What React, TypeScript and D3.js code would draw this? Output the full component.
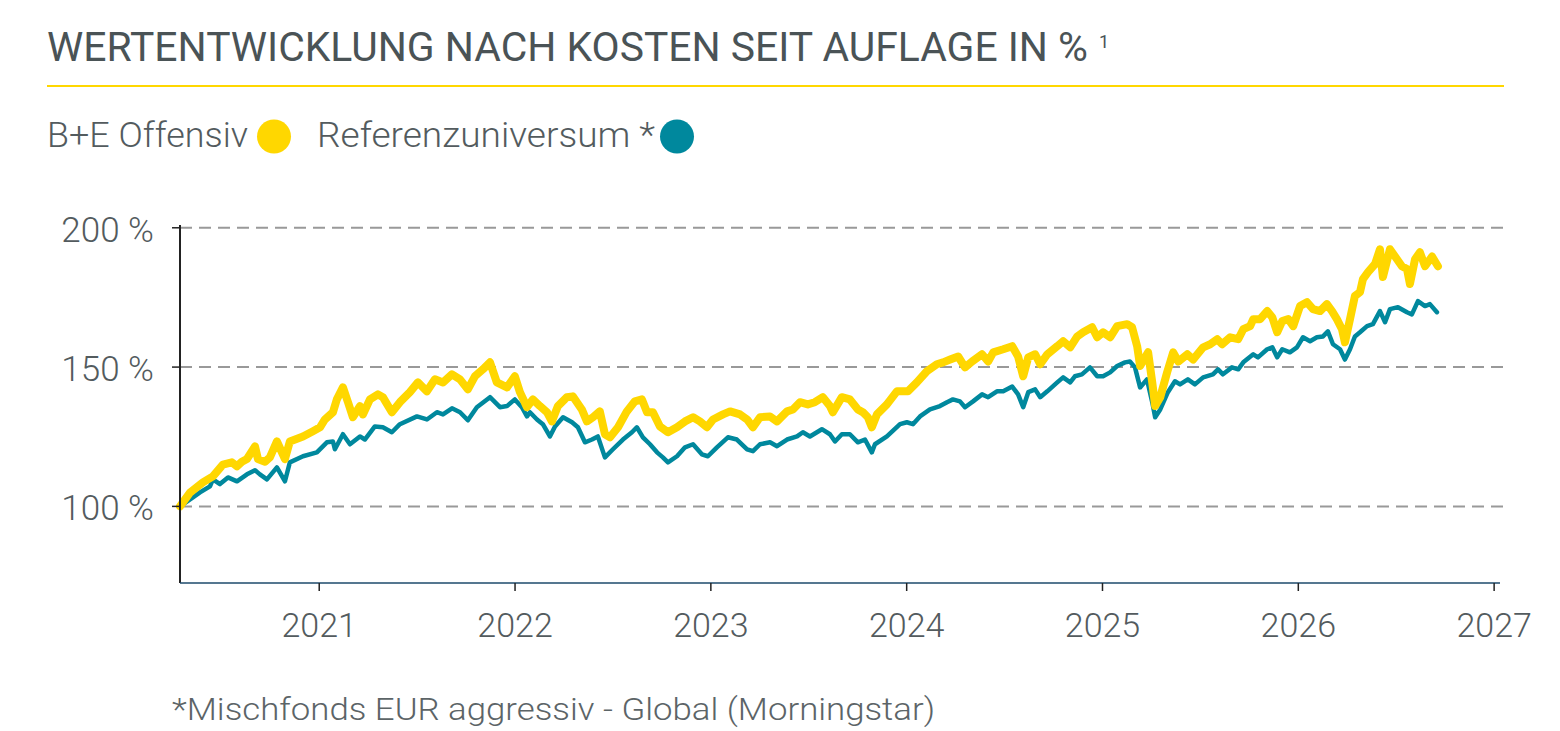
import * as d3 from "d3";

type Point = [number, number];

// decimal year, % of start value
const offensiv: Point[] = [
  [2020.289, 100.0], [2020.34, 104.9], [2020.406, 108.6], [2020.457, 110.8], [2020.508, 115.0],
  [2020.554, 115.8], [2020.58, 114.4], [2020.605, 116.0], [2020.631, 117.0], [2020.672, 121.5],
  [2020.687, 117.0], [2020.723, 116.0], [2020.748, 117.6], [2020.784, 123.3], [2020.825, 117.0],
  [2020.85, 123.3], [2020.917, 125.1], [2020.968, 127.0], [2021.004, 128.4], [2021.029, 131.2],
  [2021.07, 133.8], [2021.09, 138.4], [2021.121, 142.7], [2021.147, 137.4], [2021.172, 132.0],
  [2021.208, 136.0], [2021.223, 133.0], [2021.259, 138.4], [2021.3, 140.2], [2021.325, 139.2],
  [2021.371, 133.8], [2021.412, 137.4], [2021.463, 141.0], [2021.504, 144.5], [2021.55, 141.3],
  [2021.591, 145.6], [2021.632, 144.5], [2021.678, 147.4], [2021.719, 145.6], [2021.759, 142.0],
  [2021.795, 146.7], [2021.836, 149.2], [2021.872, 151.7], [2021.907, 144.5], [2021.959, 142.7],
  [2021.999, 146.7], [2022.025, 141.0], [2022.061, 135.6], [2022.091, 138.4], [2022.127, 136.0],
  [2022.163, 133.8], [2022.188, 130.5], [2022.219, 136.0], [2022.265, 139.2], [2022.295, 139.5],
  [2022.341, 134.8], [2022.367, 130.5], [2022.398, 132.0], [2022.433, 134.1], [2022.459, 125.9],
  [2022.485, 124.8], [2022.526, 128.4], [2022.571, 134.1], [2022.612, 137.7], [2022.648, 138.4],
  [2022.674, 133.8], [2022.704, 133.8], [2022.74, 128.7], [2022.781, 126.6], [2022.827, 128.4],
  [2022.868, 130.5], [2022.909, 132.0], [2022.944, 130.5], [2022.98, 128.4], [2023.011, 131.2],
  [2023.062, 133.0], [2023.098, 134.1], [2023.149, 133.0], [2023.185, 131.2], [2023.215, 128.4],
  [2023.251, 132.0], [2023.302, 132.3], [2023.338, 130.5], [2023.389, 134.1], [2023.419, 134.8],
  [2023.455, 137.4], [2023.495, 136.6], [2023.531, 137.4], [2023.572, 139.2], [2023.608, 136.0],
  [2023.623, 133.8], [2023.669, 139.2], [2023.71, 138.4], [2023.751, 134.8], [2023.776, 133.8],
  [2023.802, 132.0], [2023.822, 128.4], [2023.848, 133.0], [2023.899, 136.6], [2023.95, 141.3],
  [2024.006, 141.3], [2024.052, 144.5], [2024.103, 148.5], [2024.154, 151.0], [2024.186, 151.7],
  [2024.222, 152.7], [2024.263, 153.8], [2024.298, 149.9], [2024.334, 152.0], [2024.385, 154.6],
  [2024.416, 152.0], [2024.442, 155.3], [2024.493, 156.4], [2024.539, 157.5], [2024.569, 153.8],
  [2024.595, 146.7], [2024.621, 153.5], [2024.656, 154.6], [2024.682, 151.0], [2024.718, 154.6],
  [2024.769, 157.5], [2024.799, 159.3], [2024.835, 157.1], [2024.871, 161.0], [2024.901, 162.5],
  [2024.947, 164.3], [2024.973, 160.7], [2025.003, 162.5], [2025.039, 160.7], [2025.075, 164.7],
  [2025.126, 165.4], [2025.151, 164.3], [2025.177, 157.5], [2025.192, 150.4], [2025.218, 153.5],
  [2025.233, 155.3], [2025.254, 144.5], [2025.269, 136.0], [2025.295, 139.2], [2025.33, 148.1],
  [2025.361, 155.3], [2025.387, 152.0], [2025.433, 154.6], [2025.463, 152.7], [2025.514, 157.1],
  [2025.55, 158.2], [2025.586, 160.0], [2025.611, 158.2], [2025.652, 160.7], [2025.693, 160.0],
  [2025.719, 163.6], [2025.754, 164.7], [2025.77, 167.2], [2025.805, 167.2], [2025.841, 170.1],
  [2025.867, 167.9], [2025.892, 162.5], [2025.918, 166.5], [2025.949, 167.2], [2025.974, 164.7],
  [2026.009, 171.9], [2026.044, 173.3], [2026.075, 170.8], [2026.111, 170.1], [2026.146, 172.6],
  [2026.172, 170.1], [2026.197, 167.2], [2026.223, 163.6], [2026.238, 158.9], [2026.264, 167.2],
  [2026.289, 175.5], [2026.315, 176.9], [2026.33, 181.6], [2026.356, 184.1], [2026.392, 187.0],
  [2026.417, 192.3], [2026.432, 182.3], [2026.468, 192.3], [2026.504, 188.7], [2026.529, 186.2],
  [2026.555, 185.2], [2026.57, 179.8], [2026.596, 188.7], [2026.621, 191.2], [2026.647, 186.2],
  [2026.683, 189.7], [2026.713, 186.2],
];

const referenz: Point[] = [
  [2020.289, 100.0], [2020.355, 103.2], [2020.391, 105.0], [2020.442, 107.2], [2020.457, 109.7],
  [2020.493, 108.0], [2020.534, 110.4], [2020.58, 109.0], [2020.631, 111.5], [2020.672, 113.0],
  [2020.697, 111.5], [2020.733, 109.7], [2020.784, 114.0], [2020.825, 109.0], [2020.85, 115.8],
  [2020.917, 118.0], [2020.988, 119.4], [2021.039, 123.0], [2021.07, 123.3], [2021.08, 120.5],
  [2021.121, 125.9], [2021.157, 122.3], [2021.208, 125.1], [2021.233, 124.0], [2021.284, 128.7],
  [2021.325, 128.4], [2021.371, 126.6], [2021.412, 129.5], [2021.499, 132.3], [2021.55, 131.2],
  [2021.601, 133.8], [2021.632, 133.0], [2021.678, 135.2], [2021.719, 133.8], [2021.759, 130.9],
  [2021.805, 135.6], [2021.872, 139.2], [2021.923, 135.6], [2021.959, 136.0], [2021.999, 138.4],
  [2022.035, 135.6], [2022.061, 132.3], [2022.076, 133.8], [2022.112, 131.2], [2022.142, 129.5],
  [2022.178, 125.1], [2022.204, 128.7], [2022.245, 132.0], [2022.291, 130.2], [2022.321, 128.4],
  [2022.357, 123.0], [2022.393, 124.0], [2022.423, 125.1], [2022.459, 117.6], [2022.5, 120.5],
  [2022.551, 124.0], [2022.597, 126.6], [2022.622, 128.4], [2022.653, 124.8], [2022.689, 122.3],
  [2022.725, 119.4], [2022.755, 117.6], [2022.781, 115.8], [2022.827, 118.0], [2022.868, 121.2],
  [2022.909, 122.3], [2022.954, 118.7], [2022.985, 118.0], [2023.031, 121.2], [2023.087, 124.8],
  [2023.133, 124.0], [2023.185, 120.5], [2023.215, 119.8], [2023.251, 122.3], [2023.302, 123.0],
  [2023.338, 121.6], [2023.389, 124.0], [2023.44, 125.1], [2023.47, 126.6], [2023.506, 125.1],
  [2023.567, 127.7], [2023.608, 125.9], [2023.634, 123.3], [2023.669, 125.9], [2023.71, 125.9],
  [2023.751, 123.0], [2023.787, 124.0], [2023.822, 119.4], [2023.838, 122.3], [2023.899, 125.1],
  [2023.966, 129.5], [2024.001, 130.2], [2024.032, 129.5], [2024.068, 132.3], [2024.119, 134.8],
  [2024.17, 136.0], [2024.206, 137.4], [2024.236, 138.4], [2024.272, 137.7], [2024.298, 135.6],
  [2024.339, 137.7], [2024.385, 140.2], [2024.416, 139.2], [2024.461, 141.3], [2024.493, 141.3],
  [2024.539, 143.0], [2024.569, 140.2], [2024.595, 135.6], [2024.621, 141.0], [2024.656, 142.0],
  [2024.682, 139.2], [2024.718, 141.3], [2024.769, 144.5], [2024.799, 146.3], [2024.835, 144.5],
  [2024.859, 146.7], [2024.895, 147.4], [2024.936, 149.9], [2024.973, 146.7], [2025.003, 146.7],
  [2025.039, 148.1], [2025.075, 150.4], [2025.115, 151.7], [2025.14, 152.0], [2025.166, 149.9],
  [2025.192, 142.7], [2025.227, 145.6], [2025.254, 137.4], [2025.269, 132.0], [2025.295, 134.8],
  [2025.334, 141.0], [2025.37, 144.9], [2025.396, 143.8], [2025.436, 145.6], [2025.472, 143.8],
  [2025.514, 146.3], [2025.564, 147.4], [2025.59, 149.2], [2025.615, 147.4], [2025.661, 149.9],
  [2025.693, 149.2], [2025.719, 151.7], [2025.77, 154.6], [2025.794, 153.5], [2025.841, 156.4],
  [2025.867, 157.1], [2025.892, 153.5], [2025.918, 156.4], [2025.957, 155.3], [2025.993, 157.1],
  [2026.024, 160.7], [2026.06, 159.3], [2026.095, 160.7], [2026.126, 161.0], [2026.151, 162.8],
  [2026.177, 158.2], [2026.213, 156.4], [2026.238, 152.7], [2026.264, 156.4], [2026.289, 161.0],
  [2026.315, 162.5], [2026.351, 164.7], [2026.381, 165.4], [2026.417, 170.1], [2026.443, 166.1],
  [2026.468, 170.8], [2026.509, 171.5], [2026.555, 169.7], [2026.58, 168.9], [2026.611, 173.7],
  [2026.647, 171.9], [2026.672, 172.6], [2026.708, 169.7],
];

const yearTicks = [2021, 2022, 2023, 2024, 2025, 2026, 2027];
const percentTicks = [100, 150, 200];

const title = "WERTENTWICKLUNG NACH KOSTEN SEIT AUFLAGE IN %";
const legendItems = [
  { label: "B+E Offensiv", color: "#ffd700" },
  { label: "Referenzuniversum *", color: "#00889d" },
];
const footnote = "*Mischfonds EUR aggressiv - Global (Morningstar)";

const textColor = "#535b5e";
const font = "Roboto, 'DejaVu Sans', sans-serif";

export default function App() {
  const width = 1560;
  const height = 731;

  const x = d3.scaleLinear().domain([2020.289, 2027.03]).range([180, 1500]);
  const y = d3.scaleLinear().domain([72.5, 201]).range([583, 225]);

  const line = d3
    .line<Point>()
    .x((d) => x(d[0]))
    .y((d) => y(d[1]));

  return (
    <svg
      width={width}
      height={height}
      style={{ position: "absolute", left: 0, top: 0, background: "#fff" }}
      fontFamily={font}
    >
      {/* title */}
      <text
        x={47}
        y={61}
        fontSize={41}
        fontWeight={400}
        fill="#4a5356"
        textLength={1041}
        lengthAdjust="spacingAndGlyphs"
      >
        {title}
      </text>
      <text x={1099} y={48} fontSize={18} fontWeight={400} fill="#4a5356">
        1
      </text>
      <line x1={47} x2={1504} y1={86} y2={86} stroke="#ffd700" strokeWidth={2} />

      {/* legend */}
      <g fontSize={35} fontWeight={300} fill={textColor}>
        <text x={47} y={147} textLength={201} lengthAdjust="spacingAndGlyphs">
          {legendItems[0].label}
        </text>
        <circle cx={274} cy={136.5} r={17} fill={legendItems[0].color} />
        <text x={317} y={147} textLength={338} lengthAdjust="spacingAndGlyphs">
          {legendItems[1].label}
        </text>
        <circle cx={677} cy={136.5} r={17} fill={legendItems[1].color} />
      </g>

      {/* grid */}
      {percentTicks.map((t) => (
        <line
          key={`g${t}`}
          x1={180}
          x2={1504}
          y1={y(t)}
          y2={y(t)}
          stroke="#999"
          strokeWidth={2}
          strokeDasharray="12 7"
        />
      ))}

      {/* series */}
      <path
        d={line(referenz) ?? ""}
        fill="none"
        stroke={legendItems[1].color}
        strokeWidth={4.5}
        strokeLinejoin="round"
        strokeLinecap="round"
      />
      <path
        d={line(offensiv) ?? ""}
        fill="none"
        stroke={legendItems[0].color}
        strokeWidth={8}
        strokeLinejoin="round"
        strokeLinecap="round"
      />

      {/* y axis */}
      <line x1={180} x2={180} y1={225} y2={583} stroke="#222" strokeWidth={2} />
      {percentTicks.map((t) => (
        <g key={`y${t}`}>
          <line x1={172} x2={180} y1={y(t)} y2={y(t)} stroke="#222" strokeWidth={1.5} />
          <text
            x={154}
            y={y(t) + 14}
            textAnchor="end"
            fontSize={35}
            fontWeight={300}
            fill={textColor}
          >
            {`${t} %`}
          </text>
        </g>
      ))}

      {/* x axis */}
      <line x1={180} x2={1500} y1={583} y2={583} stroke="#1d4a6b" strokeWidth={1.5} />
      {yearTicks.map((t) => (
        <g key={`x${t}`}>
          <line x1={x(t)} x2={x(t)} y1={583} y2={591} stroke="#222" strokeWidth={1.5} />
          <text
            x={x(t)}
            y={637}
            textAnchor="middle"
            fontSize={34}
            fontWeight={300}
            fill={textColor}
          >
            {t}
          </text>
        </g>
      ))}

      {/* footnote */}
      <text
        x={172}
        y={720}
        fontSize={32}
        fontWeight={300}
        fill="#5c6467"
        textLength={763}
        lengthAdjust="spacingAndGlyphs"
      >
        {footnote}
      </text>
    </svg>
  );
}
